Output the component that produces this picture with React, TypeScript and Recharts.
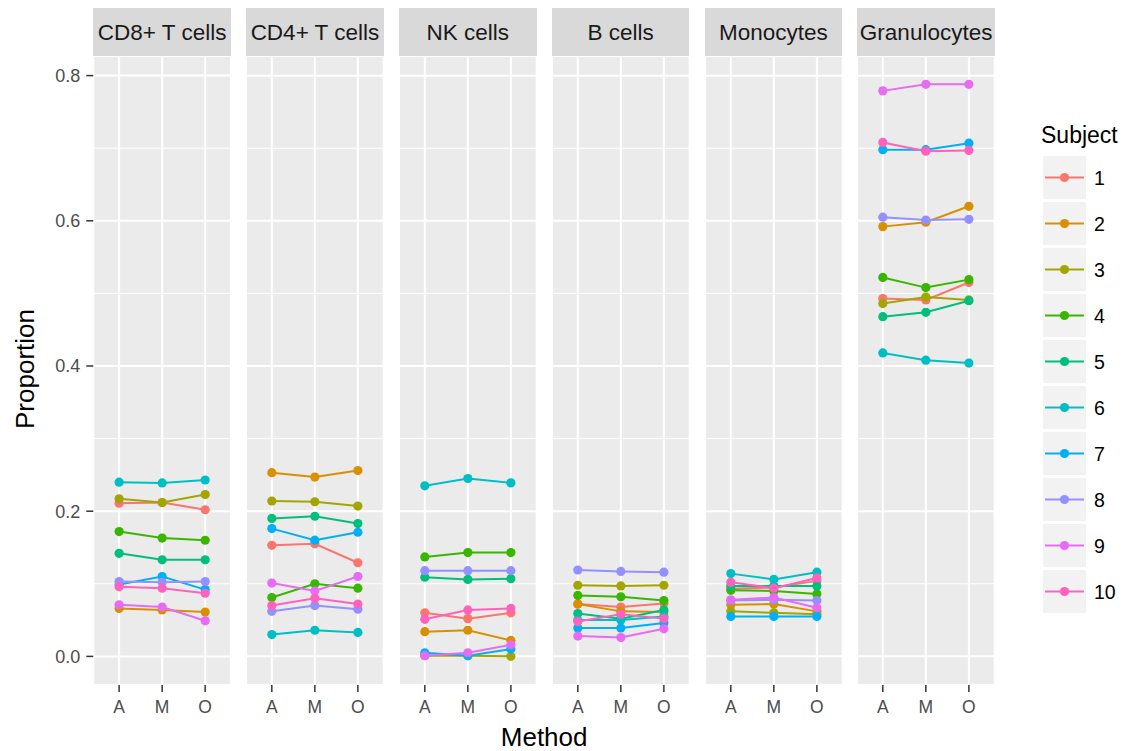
import { LineChart, Line, XAxis, YAxis, CartesianGrid } from "recharts";

const methods = ["A", "M", "O"];
const subjects = ["1", "2", "3", "4", "5", "6", "7", "8", "9", "10"];
const colors = [
  "#F8766D", "#D89000", "#A3A500", "#39B600", "#00BF7D",
  "#00BFC4", "#00B0F6", "#9590FF", "#E76BF3", "#FF62BC",
];
const cellTypes = ["CD8+ T cells", "CD4+ T cells", "NK cells", "B cells", "Monocytes", "Granulocytes"];
const yTicks = [0, 0.2, 0.4, 0.6, 0.8];
const yMinor = [0.1, 0.3, 0.5, 0.7];

// values per subject (1..10), each [A, M, O]
const cd8 = [
  [0.211, 0.212, 0.202], [0.066, 0.064, 0.061], [0.217, 0.212, 0.223], [0.172, 0.163, 0.16],
  [0.142, 0.133, 0.133], [0.24, 0.239, 0.243], [0.099, 0.11, 0.092], [0.103, 0.102, 0.103],
  [0.071, 0.068, 0.049], [0.096, 0.094, 0.087],
];
const cd4 = [
  [0.153, 0.155, 0.129], [0.253, 0.247, 0.256], [0.214, 0.213, 0.207], [0.081, 0.1, 0.094],
  [0.19, 0.193, 0.183], [0.03, 0.036, 0.033], [0.176, 0.16, 0.171], [0.062, 0.07, 0.065],
  [0.101, 0.09, 0.11], [0.07, 0.08, 0.072],
];
const nk = [
  [0.06, 0.052, 0.06], [0.034, 0.036, 0.022], [0.001, 0.001, 0.0], [0.137, 0.143, 0.143],
  [0.109, 0.106, 0.107], [0.235, 0.245, 0.239], [0.005, 0.001, 0.01], [0.118, 0.118, 0.118],
  [0.001, 0.005, 0.016], [0.051, 0.064, 0.066],
];
const bcells = [
  [0.072, 0.068, 0.073], [0.072, 0.062, 0.061], [0.098, 0.097, 0.098], [0.084, 0.082, 0.077],
  [0.059, 0.052, 0.064], [0.05, 0.05, 0.055], [0.039, 0.039, 0.046], [0.119, 0.117, 0.116],
  [0.028, 0.026, 0.038], [0.048, 0.058, 0.052],
];
const mono = [
  [0.093, 0.095, 0.104], [0.071, 0.072, 0.062], [0.062, 0.06, 0.058], [0.091, 0.09, 0.086],
  [0.097, 0.097, 0.097], [0.114, 0.106, 0.116], [0.055, 0.055, 0.055], [0.077, 0.078, 0.077],
  [0.078, 0.081, 0.067], [0.102, 0.094, 0.108],
];
const gran = [
  [0.493, 0.491, 0.515], [0.592, 0.598, 0.62], [0.486, 0.495, 0.491], [0.522, 0.508, 0.519],
  [0.468, 0.474, 0.49], [0.418, 0.408, 0.404], [0.698, 0.698, 0.707], [0.605, 0.601, 0.602],
  [0.779, 0.788, 0.788], [0.708, 0.696, 0.697],
];
const panelValues = [cd8, cd4, nk, bcells, mono, gran];

const FONT = '"Liberation Sans", Arial, Helvetica, sans-serif';
const PANEL_LEFT = 93.3;
const PANEL_PITCH = 152.8;
const PANEL_W = 137.7;
const PANEL_TOP = 56;
const PANEL_H = 629;
const XAXIS_H = 40;
const YAXIS_W = 93.3;

function toRows(vals: number[][]) {
  return methods.map((m, i) => {
    const row: Record<string, number | string> = { x: i + 1, method: m };
    subjects.forEach((s, k) => {
      row["s" + s] = vals[k][i];
    });
    return row;
  });
}

function Panel({ idx }: { idx: number }) {
  const first = idx === 0;
  const rows = toRows(panelValues[idx]);
  const left = PANEL_LEFT + idx * PANEL_PITCH - (first ? YAXIS_W : 0);
  const width = PANEL_W + (first ? YAXIS_W : 0);
  return (
    <div style={{ position: "absolute", left, top: PANEL_TOP }}>
      <LineChart width={width} height={PANEL_H + XAXIS_H} data={rows} margin={{ top: 0, right: 0, bottom: 0, left: 0 }}>
        <CartesianGrid fill="#EBEBEB" stroke="#FFFFFF" strokeWidth={2} />
        <CartesianGrid horizontalValues={yMinor} vertical={false} stroke="#FFFFFF" strokeWidth={1} fill="none" />
        <XAxis
          dataKey="x"
          type="number"
          domain={[0.4, 3.6]}
          ticks={[1, 2, 3]}
          tickFormatter={(v: number) => methods[v - 1]}
          height={XAXIS_H}
          axisLine={false}
          tickSize={7}
          tickMargin={9}
          tickLine={{ stroke: "#333333", strokeWidth: 1.5 }}
          tick={{ fill: "#4D4D4D", fontSize: 17.5, fontFamily: FONT }}
          interval={0}
        />
        <YAxis
          type="number"
          domain={[-0.0394, 0.827]}
          ticks={yTicks}
          allowDataOverflow
          hide={!first}
          width={YAXIS_W}
          axisLine={false}
          tickSize={7}
          tickMargin={6}
          tickLine={{ stroke: "#333333", strokeWidth: 1.5 }}
          tick={{ fill: "#4D4D4D", fontSize: 18, fontFamily: FONT }}
          tickFormatter={(v: number) => v.toFixed(1)}
        />
        {subjects.map((s, k) => (
          <Line
            key={s}
            dataKey={"s" + s}
            stroke={colors[k]}
            strokeWidth={2}
            dot={{ r: 4.6, fill: colors[k], stroke: "none" }}
            activeDot={false}
            isAnimationActive={false}
          />
        ))}
      </LineChart>
    </div>
  );
}

function Strip({ idx }: { idx: number }) {
  return (
    <div
      style={{
        position: "absolute",
        left: PANEL_LEFT + idx * PANEL_PITCH,
        top: 8,
        width: PANEL_W,
        height: PANEL_TOP - 8,
        background: "#D9D9D9",
        color: "#1A1A1A",
        fontFamily: FONT,
        fontSize: 22.5,
        display: "flex",
        alignItems: "center",
        justifyContent: "center",
        whiteSpace: "nowrap",
        paddingTop: 2,
        boxSizing: "border-box",
      }}
    >
      {cellTypes[idx]}
    </div>
  );
}

function SubjectLegend() {
  const keyTop = 156;
  const pitch = 46;
  return (
    <svg style={{ position: "absolute", left: 1030, top: 110 }} width={110} height={520}>
      <text x={11} y={33} fontFamily={FONT} fontSize={23} fill="#000">
        Subject
      </text>
      {subjects.map((s, k) => {
        const y = keyTop - 110 + k * pitch;
        return (
          <g key={s}>
            <rect x={13} y={y} width={43} height={43} fill="#F2F2F2" />
            <line x1={15} x2={54} y1={y + 21.5} y2={y + 21.5} stroke={colors[k]} strokeWidth={2} />
            <circle cx={34.5} cy={y + 21.5} r={4.6} fill={colors[k]} />
            <text x={64} y={y + 28.5} fontFamily={FONT} fontSize={19.5} fill="#000">
              {s}
            </text>
          </g>
        );
      })}
    </svg>
  );
}

export default function App() {
  const plotMid = PANEL_LEFT + (5 * PANEL_PITCH + PANEL_W) / 2;
  return (
    <div style={{ position: "absolute", left: 0, top: 0, width: 1140, height: 751, background: "#fff", overflow: "hidden" }}>
      {cellTypes.map((_, i) => (
        <Strip key={"st" + i} idx={i} />
      ))}
      {cellTypes.map((_, i) => (
        <Panel key={"p" + i} idx={i} />
      ))}
      <div
        style={{
          position: "absolute",
          left: plotMid - 100,
          width: 200,
          top: 722,
          textAlign: "center",
          fontFamily: FONT,
          fontSize: 26,
          color: "#000",
          lineHeight: "30px",
        }}
      >
        Method
      </div>
      <div
        style={{
          position: "absolute",
          left: 25 - 100,
          top: 369 - 15,
          width: 200,
          textAlign: "center",
          transform: "rotate(-90deg)",
          fontFamily: FONT,
          fontSize: 26,
          color: "#000",
          lineHeight: "30px",
        }}
      >
        Proportion
      </div>
      <SubjectLegend />
    </div>
  );
}
